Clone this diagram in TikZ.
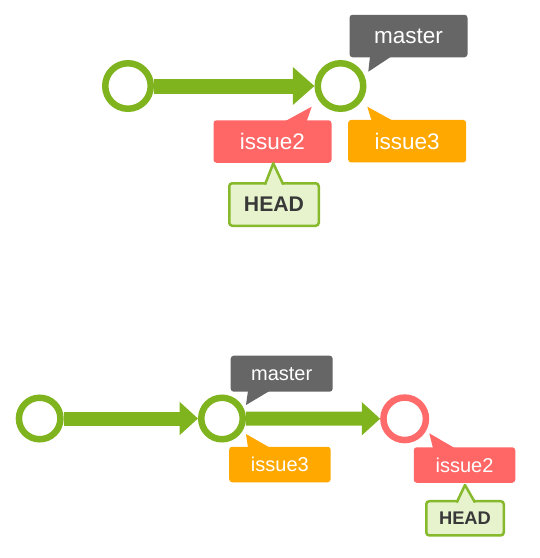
\documentclass[tikz,border=0pt]{standalone}
\usepackage{fontspec}
\setmainfont{Liberation Sans}
\usetikzlibrary{arrows.meta,calc}
\definecolor{gitgreen}{HTML}{80B41E}
\definecolor{gitred}{HTML}{FF6666}
\definecolor{redring}{HTML}{FF6B6B}
\definecolor{gitorange}{HTML}{FFA800}
\definecolor{gitgray}{HTML}{666666}
\definecolor{headfill}{HTML}{E6F3CD}
\definecolor{headline}{HTML}{86B92B}
\definecolor{headtext}{HTML}{383838}
\begin{document}
\begin{tikzpicture}[x=1pt,y=-1pt,
  commitbig/.style={circle,draw=gitgreen,fill=white,line width=6.5pt,inner sep=0pt,minimum size=45.5pt},
  commitsmall/.style={circle,draw=gitgreen,fill=white,line width=6.5pt,inner sep=0pt,minimum size=41.5pt},
  bigarrow/.style={draw=gitgreen,line width=15pt,-{Triangle[length=21.7pt,width=36.7pt]}},
  smallarrow/.style={draw=gitgreen,line width=14pt,-{Triangle[length=18.3pt,width=32pt]}},
  lbl/.style={rectangle,rounded corners=3pt,inner sep=0pt,outer sep=0pt,text=white},
  biglbl/.style={lbl,minimum width=118pt,minimum height=42.5pt,font=\fontsize{22.5}{26}\selectfont},
  smalllbl/.style={lbl,minimum width=101.5pt,minimum height=35.5pt,font=\fontsize{20}{24}\selectfont},
  headbox/.style={rectangle,rounded corners=3pt,draw=headline,fill=headfill,line width=2.5pt,inner sep=0pt,outer sep=0pt,text=headtext},
  headborder/.style={draw=headline,line width=2.5pt,line join=round}
]
\fill[white] (0,0) rectangle (540,558);
\useasboundingbox (0,0) rectangle (540,558);

% ---------- top diagram ----------
\node[commitbig] (a1) at (128,86) {};
\node[commitbig] (a2) at (340.5,86) {};
\draw[bigarrow] (a1) -- (a2);

\node[biglbl,fill=gitgray] (m1) at (408.5,36) {master};
\coordinate (m1tip) at (368.3,71.7);
\fill[gitgray] ($(m1.south)+(-38.5,-1)$) -- (m1tip) -- ($(m1.south)+(-16.8,-1)$) -- cycle;

\node[biglbl,fill=gitred] (i2) at (272.5,141.5) {issue2};
\coordinate (i2tip) at (311.7,106.7);
\fill[gitred] ($(i2.north)+(12.5,1)$) -- (i2tip) -- ($(i2.north)+(34.2,1)$) -- cycle;

\node[biglbl,fill=gitorange] (i3) at (407.2,141.2) {issue3};
\coordinate (i3tip) at (367.3,106.7);
\fill[gitorange] ($(i3.north)+(-35.5,1)$) -- (i3tip) -- ($(i3.north)+(-13.9,1)$) -- cycle;

\node[headbox,minimum width=89.5pt,minimum height=42.5pt,font=\bfseries\fontsize{21.2}{25}\selectfont] (h1) at (274,204.5) {HEAD};
\coordinate (h1tip) at (273.3,163.3);
\fill[headfill] ($(h1.north)+(-9,2)$) -- (h1tip) -- ($(h1.north)+(9.3,2)$) -- cycle;
\draw[headborder] ($(h1.north)+(-9,1.3)$) -- (h1tip) -- ($(h1.north)+(9.3,1.3)$);

% ---------- bottom diagram ----------
\node[commitsmall] (b1) at (39.7,418.5) {};
\node[commitsmall] (b2) at (222,418.5) {};
\node[commitsmall,draw=redring,minimum size=42.5pt] (b3) at (404.7,418.8) {};
\draw[smallarrow] (b1) -- (b2);
\draw[smallarrow] (b2) -- (b3);

\node[smalllbl,fill=gitgray,minimum width=102pt,minimum height=36pt] (m2) at (281.7,373.7) {master};
\coordinate (m2tip) at (246,405);
\fill[gitgray] ($(m2.south)+(-33.7,-1)$) -- (m2tip) -- ($(m2.south)+(-11.7,-1)$) -- cycle;

\node[smalllbl,fill=gitorange] (i3b) at (279.9,464.5) {issue3};
\coordinate (i3btip) at (246,434);
\fill[gitorange] ($(i3b.north)+(-31.9,1)$) -- (i3btip) -- ($(i3b.north)+(-9.9,1)$) -- cycle;

\node[smalllbl,fill=gitred] (i2b) at (464.5,465) {issue2};
\coordinate (i2btip) at (429.3,433.3);
\fill[gitred] ($(i2b.north)+(-31.5,1)$) -- (i2btip) -- ($(i2b.north)+(-9.5,1)$) -- cycle;

\node[headbox,minimum width=77.5pt,minimum height=34.2pt,font=\bfseries\fontsize{18.3}{22}\selectfont] (h2) at (465,518.3) {HEAD};
\coordinate (h2tip) at (465,485);
\fill[headfill] ($(h2.north)+(-8.3,2)$) -- (h2tip) -- ($(h2.north)+(10,2)$) -- cycle;
\draw[headborder] ($(h2.north)+(-8.3,1.3)$) -- (h2tip) -- ($(h2.north)+(10,1.3)$);
\end{tikzpicture}
\end{document}
